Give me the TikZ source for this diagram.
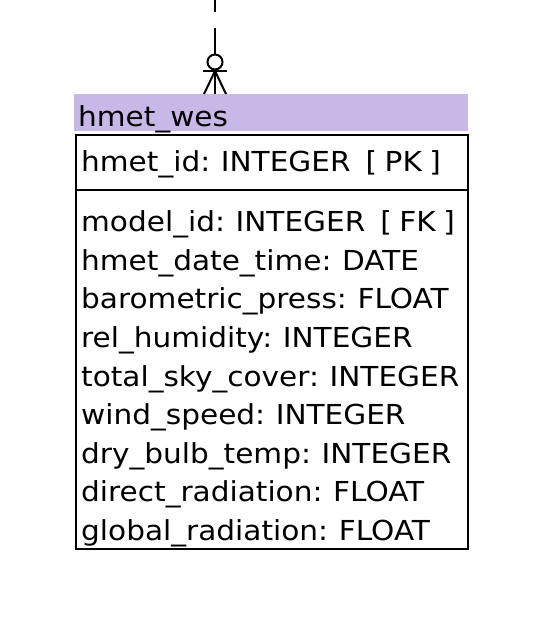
\documentclass[tikz,border=0pt]{standalone}
\usepackage{fontspec}
\setmainfont{DejaVu Sans}[FakeStretch=1.075,WordSpace=0.8]
\definecolor{hdr}{RGB}{200,184,232}
\begin{document}
\begin{tikzpicture}[x=1pt,y=-1pt,
  attr/.style={anchor=base west,inner sep=0pt,font=\fontsize{27.5}{30}\selectfont},
  edge/.style={line width=2pt,line cap=butt},
  frame/.style={draw=black,line width=2pt}]
\useasboundingbox (0,0) rectangle (540,634);
% header band
\fill[hdr] (74,94) rectangle (468,131);
\node (hdr) at (271,112.5) [minimum width=394pt,minimum height=37pt,inner sep=0pt] {};
\node[attr] (title) at (78,126) {hmet\_wes};
% body
\node[frame,anchor=north west,minimum width=392pt,minimum height=414pt,inner sep=0pt] (body) at (75,134) {};
\draw[line width=2pt] (75,190) -- (467,190);
\node[attr] (pk) at (81,171) {hmet\_id: INTEGER\ \ [ PK ]};
\foreach \t [count=\i from 0] in {model\_id: INTEGER\ \ [ FK ],hmet\_date\_time: DATE,barometric\_press: FLOAT,rel\_humidity: INTEGER,total\_sky\_cover: INTEGER,wind\_speed: INTEGER,dry\_bulb\_temp: INTEGER,direct\_radiation: FLOAT,global\_radiation: FLOAT}
  \node[attr] (a\i) at (81,231.7+38.6*\i) {\t};
% connector
\coordinate (top) at (215,-15);
\coordinate (foot) at (215,94);
\coordinate (apex) at (215,71);
\draw[edge,dash pattern=on 27pt off 16pt] (top) -- (215,55);
\node[draw,circle,line width=2pt,minimum size=15pt,inner sep=0pt] (ring) at (215,62) {};
\draw[edge] (top |- ring.south) -- (apex);
\draw[edge] (203,71) -- (227,71);
\draw[edge] (apex) -- (foot);
\draw[edge] (apex) -- (204,94);
\draw[edge] (apex) -- (226,94);
\end{tikzpicture}
\end{document}
